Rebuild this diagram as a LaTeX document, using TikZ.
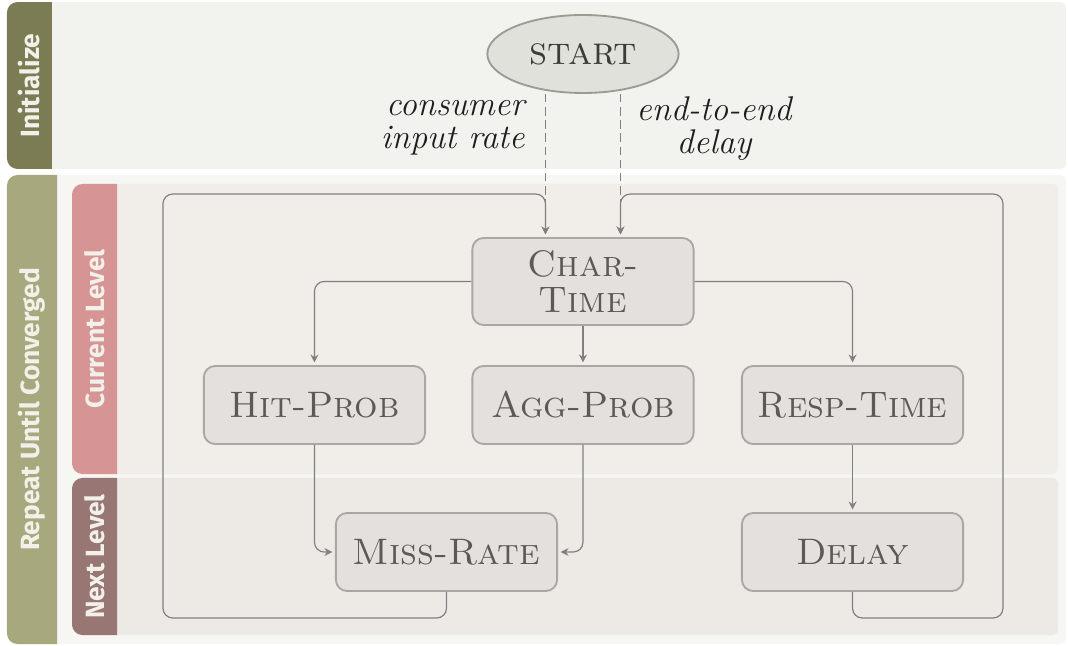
\documentclass[tikz,border=0pt]{standalone}
\usepackage{fontspec}
\setsansfont{Fira Sans}
\usepackage{tikz}
\usetikzlibrary{shapes.geometric,arrows.meta}
\definecolor{initbar}{HTML}{7C7C54}
\definecolor{initpanel}{HTML}{F2F2EE}
\definecolor{loopbar}{HTML}{A8A87E}
\definecolor{looppanel}{HTML}{F6F6F2}
\definecolor{curbar}{HTML}{D69594}
\definecolor{curpanel}{HTML}{F1EDE9}
\definecolor{nextbar}{HTML}{977673}
\definecolor{nextpanel}{HTML}{EDEAE6}
\definecolor{bartext}{HTML}{F3F0EA}
\definecolor{taskfill}{HTML}{E4E0DD}
\definecolor{taskline}{HTML}{ABA6A2}
\definecolor{tasktext}{HTML}{5E5955}
\definecolor{startfill}{HTML}{E1E1DB}
\definecolor{startline}{HTML}{9B9B93}
\definecolor{starttext}{HTML}{3D3D38}
\definecolor{flowline}{HTML}{808080}
\definecolor{notetext}{HTML}{1E1E1E}
\tikzset{
  stage/.style={font=\sffamily\bfseries\normalsize, text=bartext, rotate=90},
  task/.style={draw=taskline, fill=taskfill, text=tasktext, line width=0.7pt,
    rounded corners=0.15cm, minimum width=2.95cm, minimum height=1.04cm,
    font=\fontsize{14pt}{18pt}\selectfont\scshape, align=center},
  begin/.style={ellipse, draw=startline, fill=startfill, text=starttext,
    line width=0.7pt, minimum width=2.55cm, minimum height=1.04cm,
    inner sep=0pt, font=\fontsize{15pt}{18pt}\selectfont\scshape},
  note/.style={text=notetext, inner sep=0pt, font=\fontsize{13pt}{12.6pt}\selectfont\itshape},
  flow/.style={draw=flowline, line width=0.45pt, rounded corners=0.13cm,
    -{Stealth[length=3pt,width=3pt,inset=1pt]}, shorten >=1pt},
  feed/.style={flow, dash pattern=on 3.2pt off 1.8pt},
}

\begin{document}
\begin{tikzpicture}
  \useasboundingbox (0,0) rectangle (14.24,8.6);

  % panels
  \fill[initpanel, rounded corners=0.07cm] (0.5,6.347) rectangle (14.213,8.573);
  \fill[looppanel, rounded corners=0.07cm] (0.5,0.013) rectangle (14.213,6.267);
  \fill[curpanel, rounded corners=0.07cm] (1.4,2.28) rectangle (14.107,6.147);
  \fill[nextpanel, rounded corners=0.07cm] (1.4,0.133) rectangle (14.107,2.227);

  % side bars, rounded on the left only
  \fill[initbar] (0.693,8.573) -- (0.233,8.573) arc[start angle=90, end angle=180, radius=0.14]
    -- (0.093,6.487) arc[start angle=180, end angle=270, radius=0.14] -- (0.693,6.347) -- cycle;
  \fill[loopbar] (0.76,6.267) -- (0.233,6.267) arc[start angle=90, end angle=180, radius=0.14]
    -- (0.093,0.153) arc[start angle=180, end angle=270, radius=0.14] -- (0.76,0.013) -- cycle;
  \fill[curbar] (1.56,6.147) -- (1.1,6.147) arc[start angle=90, end angle=180, radius=0.14]
    -- (0.96,2.42) arc[start angle=180, end angle=270, radius=0.14] -- (1.56,2.28) -- cycle;
  \fill[nextbar] (1.56,2.227) -- (1.1,2.227) arc[start angle=90, end angle=180, radius=0.14]
    -- (0.96,0.273) arc[start angle=180, end angle=270, radius=0.14] -- (1.56,0.133) -- cycle;

  \node[stage] (initlabel) at (0.393,7.46) {Initialize};
  \node[stage] (looplabel) at (0.427,3.14) {Repeat Until Converged};
  \node[stage] (curlabel) at (1.26,4.213) {Current Level};
  \node[stage] (nextlabel) at (1.26,1.18) {Next Level};

  % tasks
  \node[begin] (start) at (7.773,7.88) {start};
  \node[task, minimum height=1.16cm] (chartime) at (7.773,4.847) {Char-\\[-4.7pt]Time};
  \node[task] (hitprob) at (4.193,3.2) {Hit-Prob};
  \node[task] (aggprob) at (7.773,3.2) {Agg-Prob};
  \node[task] (resptime) at (11.367,3.2) {Resp-Time};
  \node[task] (missrate) at (5.953,1.24) {Miss-Rate};
  \node[task] (delay) at (11.367,1.24) {Delay};

  \node[note, align=right, anchor=east] (ratelabel) at (7.0,6.9) {consumer\\input rate};
  \node[note, align=center] (delaylabel) at (9.52,6.88) {end-to-end\\delay};

  % feedback corners
  \coordinate (retLb) at (2.173,0.36);
  \coordinate (retL) at (2.173,6.013);
  \coordinate (retRb) at (13.373,0.36);
  \coordinate (retR) at (13.373,6.013);

  \draw[feed] ([xshift=-0.5cm]start.south) -- ([xshift=-0.5cm]chartime.north);
  \draw[feed] ([xshift=0.5cm]start.south) -- ([xshift=0.5cm]chartime.north);

  \draw[flow] (chartime.west) -| (hitprob.north);
  \draw[flow] (chartime.south) -- (aggprob.north);
  \draw[flow] (chartime.east) -| (resptime.north);
  \draw[flow] (hitprob.south) |- (missrate.west);
  \draw[flow] (aggprob.south) |- (missrate.east);
  \draw[flow] (resptime.south) -- (delay.north);

  \draw[flow] (missrate.south) |- (retLb) -- (retL) -| ([xshift=-0.5cm]chartime.north);
  \draw[flow] (delay.south) |- (retRb) -- (retR) -| ([xshift=0.5cm]chartime.north);
\end{tikzpicture}
\end{document}
